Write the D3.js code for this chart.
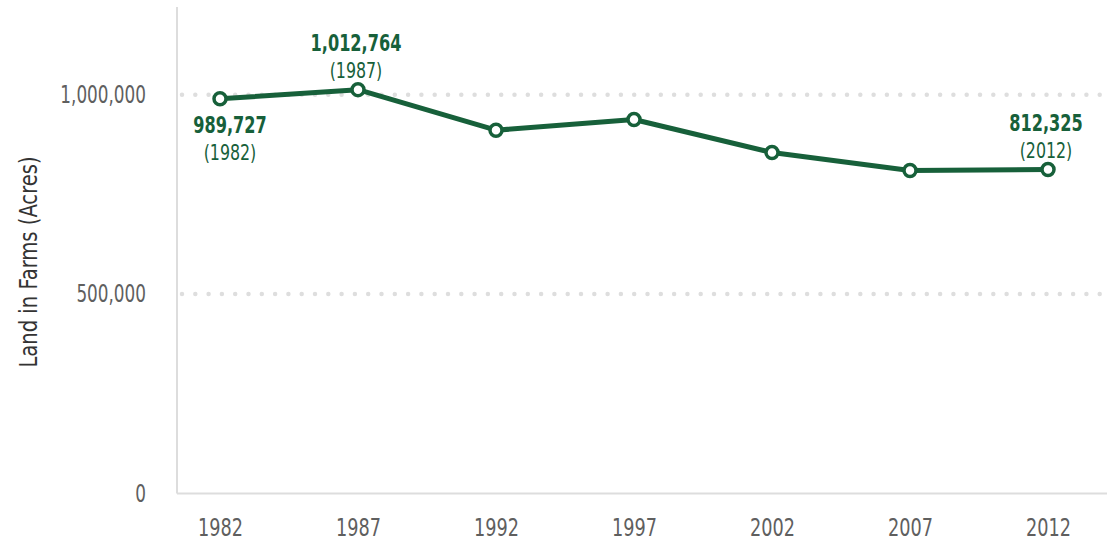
<!DOCTYPE html>
<html>
<head>
<meta charset="utf-8">
<script src="https://cdn.jsdelivr.net/npm/d3@7"></script>
<style>
  body { margin: 0; background: #fff; }
  svg text { font-family: "Liberation Sans Narrow", "DejaVu Sans Condensed", "Noto Sans", sans-serif; }
</style>
</head>
<body>
<div id="vis"></div>
<script>
// data
var years = [1982, 1987, 1992, 1997, 2002, 2007, 2012];
var acres = [989727, 1012764, 911000, 938000, 855000, 810000, 812325];
var yTicks = [0, 500000, 1000000];
// which points get a label, and where the label sits
var labelled = [0, 1, 6];
var labelPos = ["below", "above", "above"];

var width = 1111, height = 542;
var green = "#17603a";
var fmt = d3.format(",");

var svg = d3.select("#vis")
	.append("svg")
	.attr("width", width)
	.attr("height", height);

var x = d3.scaleLinear()
	.domain([1982, 2012])
	.range([220, 1048]);

var y = d3.scaleLinear()
	.domain([0, 1220000])
	.range([493.5, 7]);

var left = 177, right = 1107;

// squeeze text sideways, the original uses a condensed face
function condense(sel, sx) {
	sel.each(function() {
		var t = d3.select(this);
		var tx = +(t.attr("x") || 0);
		t.attr("x", tx / sx).attr("transform", "scale(" + sx + ",1)");
	});
}

// dotted grid
svg.append("g")
	.selectAll("line")
	.data(yTicks.filter(function(d) { return d > 0; }))
	.enter()
	.append("line")
	.attr("x1", left + 5)
	.attr("x2", right)
	.attr("y1", function(d) { return y(d); })
	.attr("y2", function(d) { return y(d); })
	.attr("stroke", "#dedede")
	.attr("stroke-width", 4.5)
	.attr("stroke-linecap", "round")
	.attr("stroke-dasharray", "0,13.3");

// axis lines
svg.append("line")
	.attr("x1", left).attr("x2", left)
	.attr("y1", y.range()[1]).attr("y2", y(0))
	.attr("stroke", "#dddddd").attr("stroke-width", 2);
svg.append("line")
	.attr("x1", left).attr("x2", right)
	.attr("y1", y(0)).attr("y2", y(0))
	.attr("stroke", "#dddddd").attr("stroke-width", 2);

// y axis labels
var yAxis = svg.append("g")
	.attr("transform", "translate(" + left + ",0)")
	.call(d3.axisLeft(y).tickValues(yTicks).tickSize(0).tickPadding(31).tickFormat(fmt));
yAxis.select(".domain").remove();
yAxis.selectAll("text")
	.attr("font-size", 24)
	.attr("fill", "#5f5f5f")
	.call(condense, 0.78);

// x axis labels
var xAxis = svg.append("g")
	.attr("transform", "translate(0," + y(0) + ")")
	.call(d3.axisBottom(x).tickValues(years).tickSize(0).tickPadding(25).tickFormat(d3.format("d")));
xAxis.select(".domain").remove();
xAxis.selectAll("text")
	.attr("font-size", 24)
	.attr("fill", "#5f5f5f")
	.call(condense, 0.82);

// axis title
svg.append("text")
	.attr("transform", "translate(37,262) rotate(-90) scale(0.87,1)")
	.attr("text-anchor", "middle")
	.attr("font-size", 25)
	.attr("fill", "#333")
	.text("Land in Farms (Acres)");

// line
var line = d3.line()
	.x(function(d, i) { return x(years[i]); })
	.y(function(d) { return y(d); });

svg.append("path")
	.datum(acres)
	.attr("d", line)
	.attr("fill", "none")
	.attr("stroke", green)
	.attr("stroke-width", 5)
	.attr("stroke-linejoin", "round");

svg.append("g")
	.selectAll("circle")
	.data(acres)
	.enter()
	.append("circle")
	.attr("cx", function(d, i) { return x(years[i]); })
	.attr("cy", function(d) { return y(d); })
	.attr("r", 6)
	.attr("fill", "#fff")
	.attr("stroke", green)
	.attr("stroke-width", 3.5);

// value labels
labelled.forEach(function(idx, k) {
	var px = x(years[idx]), py = y(acres[idx]);
	var dx = labelPos[k] == "below" ? 10 : -2;
	var b1 = labelPos[k] == "below" ? py + 34 : py - 39;
	var g = svg.append("g").attr("text-anchor", "middle").attr("fill", green);
	g.append("text")
		.attr("x", px + dx)
		.attr("y", b1)
		.attr("font-size", 23)
		.attr("font-weight", "bold")
		.text(fmt(acres[idx]))
		.call(condense, 0.78);
	g.append("text")
		.attr("x", px + dx)
		.attr("y", b1 + 27)
		.attr("font-size", 22)
		.text("(" + years[idx] + ")")
		.call(condense, 0.8);
});
</script>
</body>
</html>
